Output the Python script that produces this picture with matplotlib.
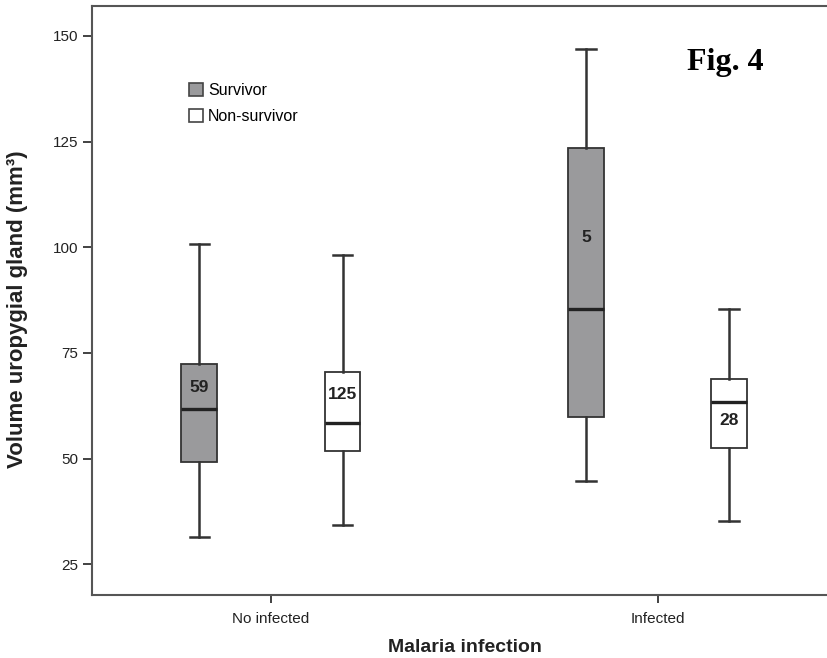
import matplotlib
matplotlib.use("Agg")
import matplotlib.pyplot as plt
from matplotlib.patches import Patch

plt.rcParams['font.family'] = ['Liberation Sans', 'DejaVu Sans']

# groups on the x axis
groups = ['No infected', 'Infected']
series = ['Survivor', 'Non-survivor']

# box statistics, order: [No infected, Infected]
surv_low = [31.4, 44.7]
surv_q1 = [49.2, 59.9]
surv_med = [61.7, 85.4]
surv_q3 = [72.3, 123.6]
surv_high = [100.8, 146.9]
surv_n = [59, 5]

non_low = [34.2, 35.2]
non_q1 = [51.8, 52.5]
non_med = [58.4, 63.3]
non_q3 = [70.5, 68.9]
non_high = [98.2, 85.3]
non_n = [125, 28]

# where the sample size labels sit (y value)
surv_n_y = [66.7, 102.3]
non_n_y = [65.2, 58.9]

fig = plt.figure(figsize=(8.27, 6.58), dpi=100)
ax = fig.add_axes([0.1112, 0.0957, 0.8888, 0.8952])

edge = '#333333'
fills = ['#9a9a9c', 'white']
offset = 0.185
width = 0.093

all_stats = [
    (surv_low, surv_q1, surv_med, surv_q3, surv_high, surv_n, surv_n_y),
    (non_low, non_q1, non_med, non_q3, non_high, non_n, non_n_y),
]

for s, (lo, q1, med, q3, hi, n, ny) in enumerate(all_stats):
    stats = []
    for g in range(len(groups)):
        stats.append({'whislo': lo[g], 'q1': q1[g], 'med': med[g],
                      'q3': q3[g], 'whishi': hi[g], 'fliers': []})
    pos = [g + (s * 2 - 1) * offset for g in range(len(groups))]
    ax.bxp(stats, positions=pos, widths=width, patch_artist=True,
           showfliers=False, manage_ticks=False,
           boxprops=dict(facecolor=fills[s], edgecolor=edge, linewidth=1.3),
           medianprops=dict(color='#222222', linewidth=2.4),
           whiskerprops=dict(color=edge, linewidth=1.8),
           capprops=dict(color=edge, linewidth=1.8),
           capwidths=width * 0.55)
    for g in range(len(groups)):
        ax.text(pos[g], ny[g], str(n[g]), ha='center', va='center',
                fontsize=12.5, fontweight='bold', color='#222222')

ax.set_xlim(-0.463, 1.438)
ax.set_ylim(17.7, 157.1)
ax.set_yticks([25, 50, 75, 100, 125, 150])
ax.set_xticks(range(len(groups)))
ax.set_xticklabels(groups)
ax.tick_params(axis='both', labelsize=11, colors='#333333', width=1.3,
               length=6.5, labelcolor='#222222')
ax.tick_params(axis='x', length=6, pad=6)

for side in ['left', 'top', 'bottom']:
    ax.spines[side].set_color('#555555')
    ax.spines[side].set_linewidth(1.5)
ax.spines['right'].set_visible(False)

ax.set_ylabel('Volume uropygial gland (mm³)', fontsize=16,
              fontweight='bold', color='#222222')
ax.yaxis.set_label_coords(-0.087, 0.4856)
ax.set_xlabel('Malaria infection', fontsize=14, fontweight='bold',
              color='#222222')
ax.xaxis.set_label_coords(0.507, -0.074)

handles = [Patch(facecolor=fills[i], edgecolor='#444444', linewidth=1.2)
           for i in range(len(series))]
ax.legend(handles, series, loc='upper left', bbox_to_anchor=(0.132, 0.8695),
          frameon=False, fontsize=11.5, handlelength=0.9, handleheight=0.9,
          handletextpad=0.3, labelspacing=0.67, borderaxespad=0, borderpad=0)

fig.text(0.877, 0.905, 'Fig. 4', fontsize=23, fontweight='bold',
         family='Liberation Serif', ha='center', va='center')

fig.savefig('out.png', dpi=100)
